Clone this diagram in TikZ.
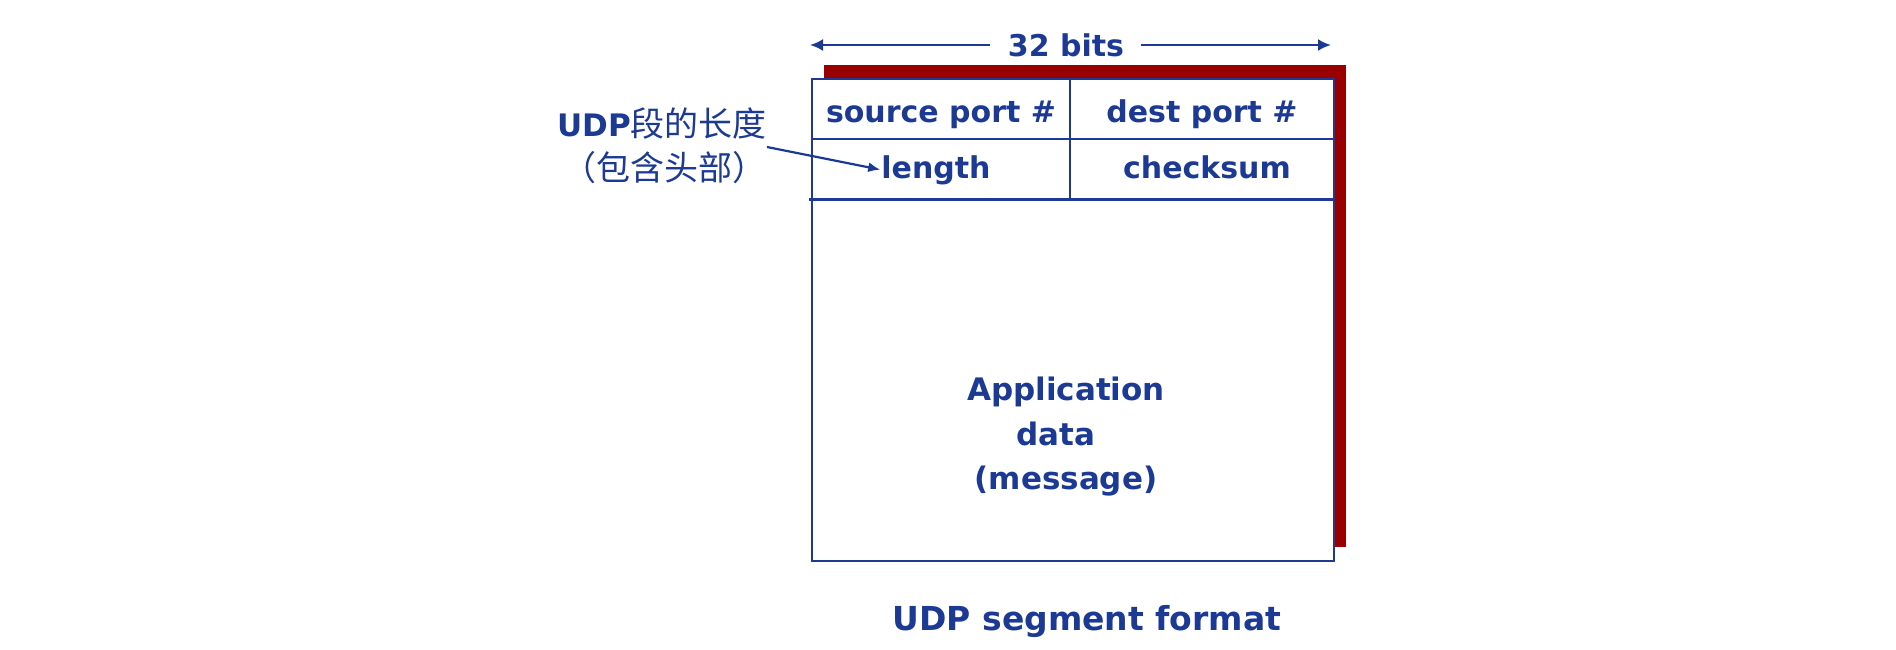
\documentclass[tikz,border=0pt]{standalone}
\usepackage{fontspec}
\setmainfont{DejaVu Sans}
\newfontfamily\cjk{Noto Sans CJK SC}
\usetikzlibrary{arrows.meta}
\definecolor{udpblue}{RGB}{28,58,148}
\definecolor{shadowred}{RGB}{153,0,0}
\begin{document}
\begin{tikzpicture}[x=1pt,y=-1pt,
  lbl/.style={text=udpblue,font=\fontsize{30}{36}\selectfont\bfseries,inner sep=0pt,anchor=base},
  ruler/.style={udpblue,line width=2.7pt},
  arr/.style={udpblue,line width=2.2pt,-{Latex[length=13pt,width=12pt]}}]
\useasboundingbox (0,0) rectangle (1896,649);
% corners
\coordinate (tl) at (812,79);
\coordinate (br) at (1334,561);
\coordinate (stl) at (824,65);
\coordinate (sbr) at (1346,547);
% shadow and box
\fill[shadowred] (stl) rectangle (sbr);
\fill[white] (tl) rectangle (br);
\draw[ruler] (tl) rectangle (br);
\coordinate (r1l) at (812,139);   \coordinate (r1r) at (1334,139);
\coordinate (r2l) at (809,199.5); \coordinate (r2r) at (1334,199.5);
\coordinate (dvt) at (1070,79);   \coordinate (dvb) at (1070,199.5);
\draw[ruler] (r1l) -- (r1r);
\draw[ruler] (r2l) -- (r2r);
\draw[ruler] (dvt) -- (dvb);
% 32 bits ruler
\node[lbl] (bits) at (1066,56) {32 bits};
\coordinate (bitsl) at (810,45);
\coordinate (bitsr) at (1331,45);
\draw[arr, shorten <=18pt] (bits.west |- bitsl) -- (bitsl);
\draw[arr, shorten <=17pt] (bits.east |- bitsr) -- (bitsr);
% header fields
\node[lbl] (src) at (941,122) {source port \#};
\node[lbl] (dst) at (1202,122) {dest port \#};
\node[lbl] (len) at (936,178) {length};
\node[lbl] (chk) at (1207,178) {checksum};
% data
\node[lbl, font=\fontsize{31}{37}\selectfont\bfseries] (app1) at (1066,400) {Application};
\node[lbl, font=\fontsize{31}{37}\selectfont\bfseries] (app2) at (1056,445) {data};
\node[lbl, font=\fontsize{31}{37}\selectfont\bfseries] (app3) at (1066,489) {(message)};
% caption
\node[lbl, font=\fontsize{33}{40}\selectfont\bfseries] (cap) at (1087,630) {UDP segment format};
% chinese label
\node[lbl, font=\fontsize{34}{40}\selectfont] (zh1) at (662,136) {{\fontsize{31}{37}\selectfont\bfseries UDP}{\cjk 段的长度}};
\node[lbl, font=\fontsize{34}{40}\selectfont] (zh2) at (664,180) {{\cjk （包含头部）}};
\coordinate (astart) at (767,147);
\draw[udpblue,line width=2.2pt,-{Latex[length=12pt,width=10pt]},shorten >=1pt] (astart) -- (len.west);
\end{tikzpicture}
\end{document}
